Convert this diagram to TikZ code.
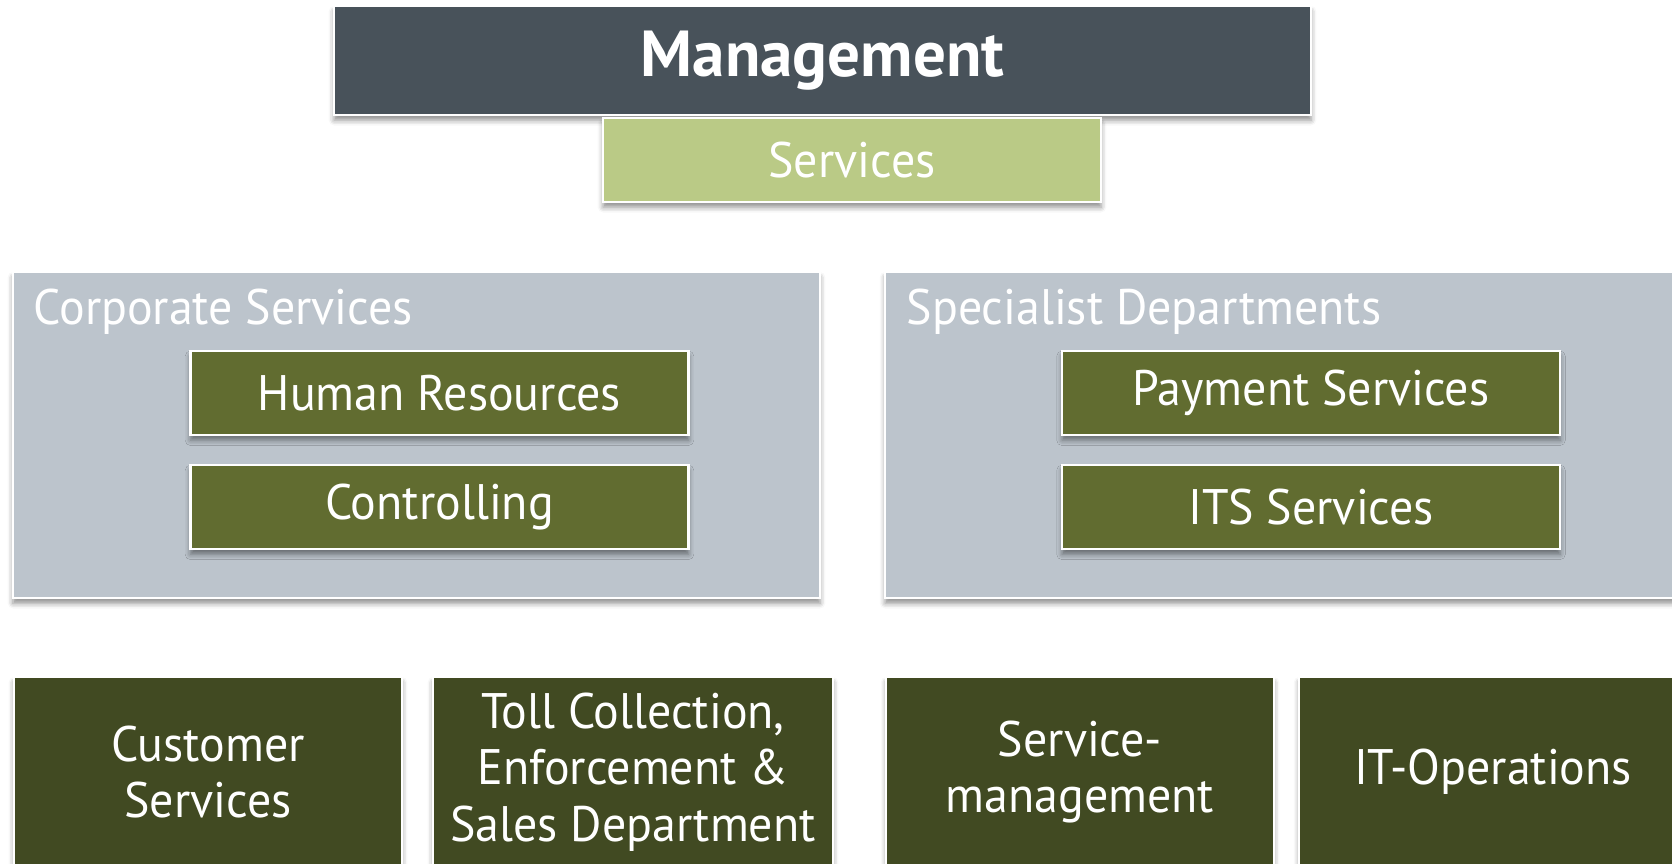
\documentclass[tikz,border=0pt]{standalone}
\usepackage{fontspec}
\setmainfont{PT Sans}[FakeStretch=0.96, BoldFeatures={FakeStretch=1.0}]
\usepackage{tikz}
\usetikzlibrary{positioning, shadows.blur}
\definecolor{MgmtGrey}{HTML}{48525A}
\definecolor{LightGreen}{HTML}{BACA86}
\definecolor{GroupGrey}{HTML}{BCC4CC}
\definecolor{OliveGreen}{HTML}{616C30}
\definecolor{DarkOlive}{HTML}{414A22}

\begin{document}
\begin{tikzpicture}[
    box/.style={draw=white, line width=0.6pt, text=white, align=center, inner sep=1pt,
      blur shadow={shadow xshift=0pt, shadow yshift=-1.5pt, shadow blur radius=1.5pt, shadow opacity=45}},
    unitbox/.style={box, fill=OliveGreen, minimum width=4.98cm, minimum height=0.84cm, font=\fontsize{14.2}{16}\selectfont},
    groupbox/.style={box, fill=GroupGrey, minimum width=8.07cm, minimum height=3.26cm},
    deptbox/.style={box, fill=DarkOlive, minimum height=1.9cm, font=\fontsize{14.2}{16}\selectfont},
    grouplabel/.style={anchor=base west, inner sep=0pt, text=white, font=\fontsize{14.2}{16}\selectfont}
  ]
  \useasboundingbox (0,0) rectangle (16.72,8.64);

  \node[box, fill=MgmtGrey, minimum width=9.77cm, minimum height=1.09cm, font=\fontsize{18.5}{20}\selectfont\bfseries] (mgmt) at (8.225,8.035) {Management};
  \node[box, fill=LightGreen, minimum width=4.98cm, minimum height=0.84cm, font=\fontsize{14.2}{16}\selectfont] (serv) at (8.52,7.04) {Services};

  \node[groupbox] (corp) at (4.165,4.29) {};
  \node[groupbox] (spec) at (12.885,4.29) {};
  \node[grouplabel] (corplabel) at ([xshift=0.21cm, yshift=-0.54cm]corp.north west) {Corporate Services};
  \node[grouplabel] (speclabel) at ([xshift=0.22cm, yshift=-0.54cm]spec.north west) {Specialist Departments};

  \node[unitbox] (hr) at (4.395,4.71) {Human Resources};
  \node[unitbox, below=0.28cm of hr] (ctrl) {Controlling};
  \node[unitbox] (pay) at (13.11,4.71) {Payment Services};
  \node[unitbox, below=0.28cm of pay] (its) {ITS Services};

  \node[deptbox, minimum width=3.88cm] (cust) at (2.08,0.92) {Customer\\Services};
  \node[deptbox, minimum width=4.0cm] (toll) at (6.33,0.92) {Toll Collection,\\Enforcement \&\\Sales Department};
  \node[deptbox, minimum width=3.88cm] (smgmt) at (10.8,0.92) {Service-\\management};
  \node[deptbox, minimum width=3.88cm] (itops) at (14.93,0.92) {IT-Operations};
\end{tikzpicture}
\end{document}
